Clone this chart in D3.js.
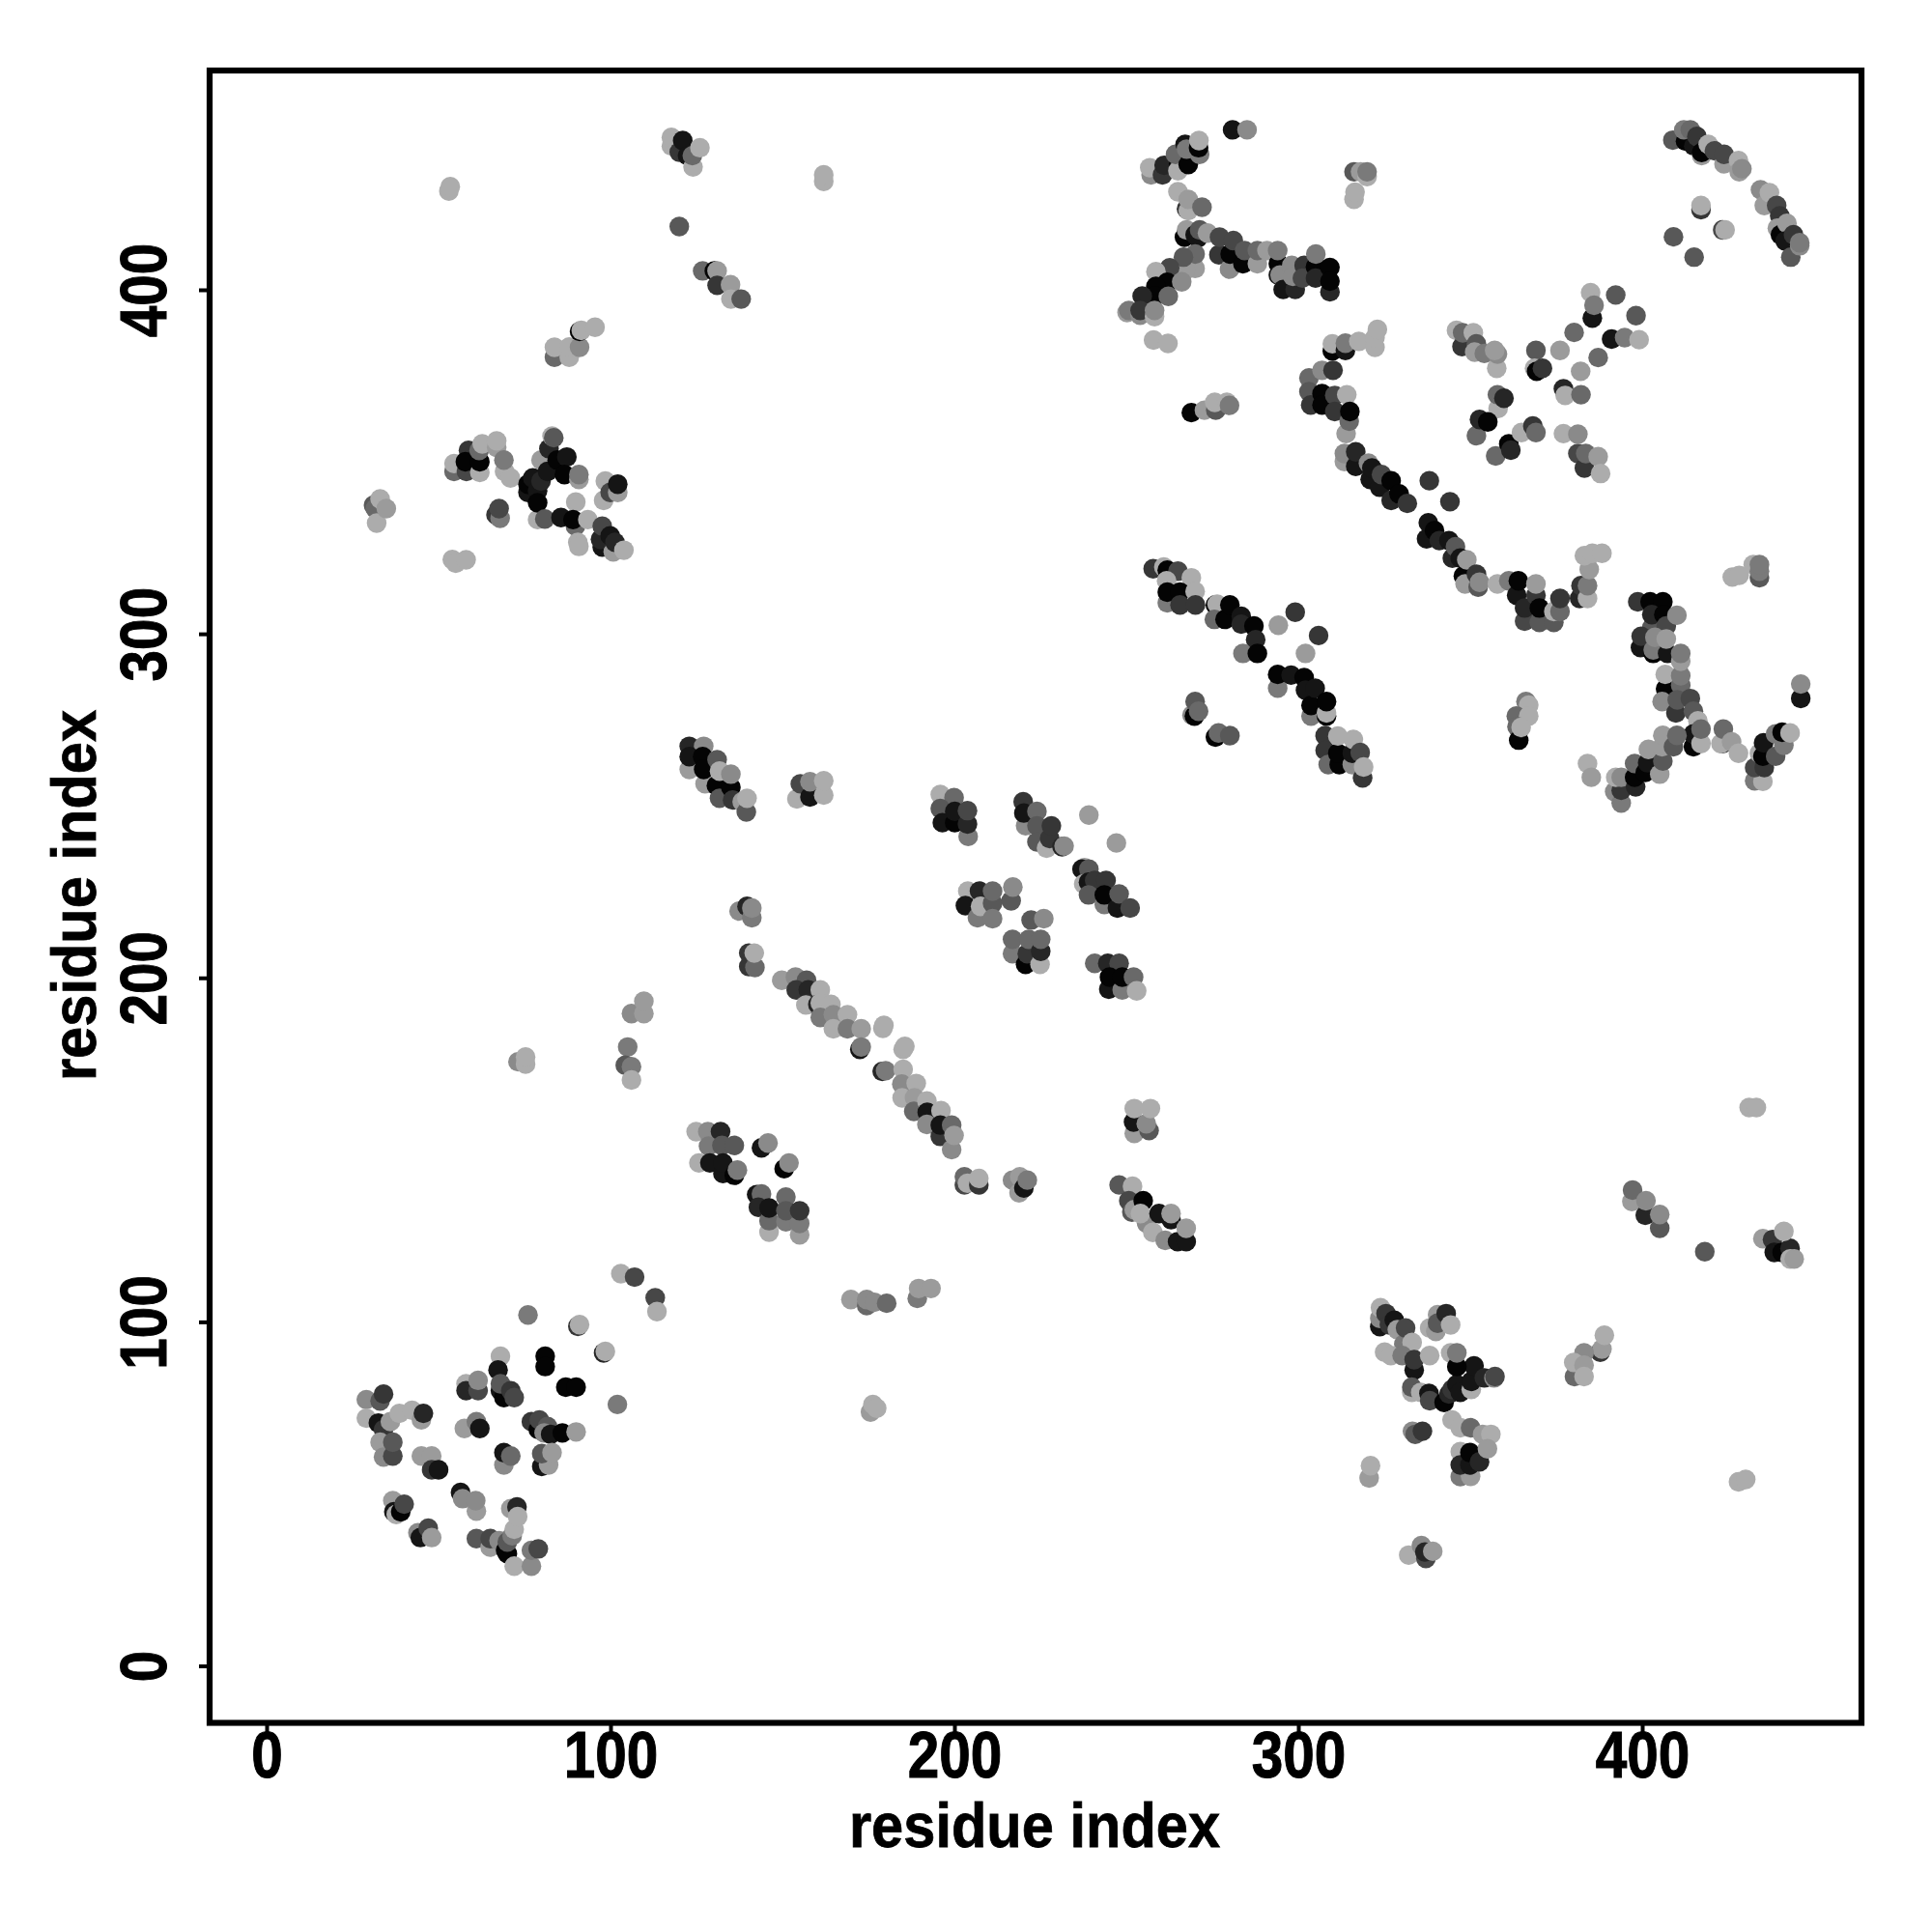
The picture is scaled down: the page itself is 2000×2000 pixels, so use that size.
<!DOCTYPE html>
<html><head><meta charset="utf-8">
<script src="https://cdn.jsdelivr.net/npm/d3@7"></script>
<style>html,body{margin:0;background:#fff}svg{display:block}</style></head>
<body><svg id="c" width="2000" height="2000"></svg>
<script>
// each contact: [residue i, residue j, shade score (0 darkest .. 10 lightest)]
const contactsBottomLeft=[[103,114,10],[107,113,4],[113,107,4],[113.5,103,10],[76,102,7],[90.5,98.7,3],[91,99.2,10],[98,91,2],[98.5,91.4,10],[68,90,10],[81,90,0],[81,87,0],[67.3,86,1],[87,81,0],[90,81,0],[102,76,7],
[29,77.4,8],[33,77,5],[34,79,3],[29,72,10],[58,82,10],[58,80,2],[61.5,80,4],[61.5,83,8],[68,80,1],[69,78,0],[68,82,5],[71,80,3],[72,78,4],
[32.5,70.6,1],[34,68.7,3],[33,65,9],[34,60.7,8],[36.7,61,4],[36,71,9],[38.6,73.4,10],[42.3,74.3,10],[45,71.5,9],[45.6,73.4,2],[36.7,65,5],
[57.5,69,9],[61,71,7],[62,69,1],[77,71,3],[79,68.7,0],[79.3,71.5,4],[81.7,69.6,5],[80.7,67.7,8],[82.6,67.3,1],[86,67.7,0],[90,68,9],
[69,58.4,8],[69,62,1],[71,61,6],[80,58,1],[82,58.4,9],[80,61.7,5],[83,62,9],[45,61,9],[48,61,9],[48,57,3],[50,57,1],
[56.4,50.4,1],[57,48.6,8],[61,45,9],[60.8,48,8],[36.7,48,9],[37,44.8,1],[37.7,44,10],[39,44.8,0],[40,47,4],[44,38.7,8],[44.7,37.3,1],[47,40,4],[48,37.3,9],
[61,37,5],[65,34.5,9],[65,37,4],[67.6,36.4,8],[69.5,33.6,0],[70,32.6,0],[70,36,5],[71.4,37.8,7],[72,39.7,10],[71,45.7,9],[72.8,46.2,2],[73,43.4,10],[72,29,10],[77,29,8],[77,33.6,7],[79,34,4]];

const contactsTopCentre=[[280.9,446.5,1],[285.1,446.5,8],[257.2,433.4,8],[256.8,435.5,10],[260.5,433.4,3],[261,436.2,2],[265.2,436.6,0],[265,434.6,10],[264.3,439.4,6],[268,436.4,0],[267.1,442.3,1],[267.5,440.9,7],[271.3,439.4,7],[271,441.3,0],[271.1,443.4,10],
[265,428.5,10],[267.5,423.5,3],[268,423,10],[268,426.3,9],[272,424,6],[266.9,415.3,0],[267.5,417.4,9],[270,416,1],[270.8,415.1,1],[271.3,417.4,5],[273.6,416.5,9],
[276.9,410.2,3],[277.1,415.3,4],[280,406,8],[280.2,410.4,0],[281.1,414.3,4],[283.9,407.6,0],[284.4,411.4,5],[288.1,407.6,9],[288.1,411.4,6],[290.9,411.4,9],[294.2,407.6,0],[294,411.4,7],[294.2,404.3,1],[294.7,404.3,8],[295.6,400.1,1],[299.1,400.1,2],[298.1,407.1,8],[298.4,403.9,8],[301.7,407.1,3],[301.2,403.4,4],[305,406.7,0],[305,403.4,2],[305.1,410.4,7],[309.2,399.4,2],[309.2,406.5,0],[309.2,402.5,0],
[270,406.2,9],[270,410.4,6],[267.1,405.7,9],[266.6,409.5,5],[262.6,406.4,4],[258.6,405.3,10],[261.9,402.2,0],[258.6,401,0],[266.1,402.3,8],[258.4,398.2,0],[262.2,398.1,6],[254.6,398.2,2],[250.2,393.4,9],[250.7,394,7],[254,392.6,8],[254,394,3],[258.2,392.2,10],[258.2,394,8],
[257.9,385.4,10],[262.1,384.4,10],[268.9,364.3,0],[272.7,365,9],[276,365,5],[275.7,367.3,10],[279.2,367.3,10],[280,366.4,7],
[316.2,434.3,5],[318.1,434.3,9],[320,432.9,10],[320,434.3,7],[316.2,426.3,10],[316.5,428.4,10]];

const contactsRightCurve=[[309.9,382.2,0],[309.9,384.3,10],[313.7,382.4,1],[313.7,384.5,7],[317.6,385,10],[322.3,383.3,10],[322.3,386.1,10],[323,388.5,10],
[303.1,374.4,6],[303.1,370.4,5],[303.6,366.5,3],[306.9,376.6,8],[310.1,376.6,3],[306.9,369.8,0],[306.9,366.5,0],[310.6,369.3,4],[310.6,364.6,3],[314.1,369.5,10],[313.9,358.2,9],[314.8,361.8,6],[315,364.6,0],
[313.4,350.1,9],[313.4,352.4,8],[316.7,348.7,1],[316.7,352.9,2],[320.4,349.6,8],[320.9,344.9,1],[321.4,348.2,1],[323.7,342.6,1],[324.2,346.3,4],[327,338.8,2],[327,344.5,0],[329.3,340.7,0],[331.7,337.9,3],[338.1,344.5,3],[344.1,338.4,3],
[337.3,327.6,1],[337.8,332.3,1],[339.6,330,0],[341,327.1,2],[343.8,327.1,1],[344.8,322,2],[345.7,325.3,5],[347.1,322,1],[348,316.8,0],[348.5,314.5,9],[349,321.5,9],[351.8,317.3,3],[352.3,313.6,5],[352.7,315,8],
[357.9,314.5,10],[361.2,315.4,7],[363.5,311.2,1],[364,315.4,0],[365.8,303.7,4],[365.8,307.5,2],[369.1,311.2,3],[369.1,314.5,9],[370.1,303.3,5],[370.1,307.5,0],[374.3,303.3,5],[374.3,306.5,10],[376.1,306.5,6],[376.1,310.3,3],
[381.8,310.3,2],[382.2,314,3],[384.1,310.3,10],[384.1,314,7],[384.6,318.7,9],[383.2,322.7,10],[385.5,323.4,10],[388.3,323.4,10]];

const contactsCross=[[346,388.2,10],[347.6,383.5,3],[347.8,387.5,6],[350.9,387.5,10],[351.8,384.3,5],[351.3,381.9,9],[354.1,381.5,7],[357.7,377.2,10],[357.9,381.3,8],[357.1,382.4,9],
[358.1,365.5,10],[357.9,369.5,6],[359.8,368.5,2],[351.8,357.6,6],[352.7,362.3,2],[355.1,361.6,0],[357.4,351.7,6],[361.2,355.2,0],[361.8,353.4,2],[364.9,358.5,10],[368.2,360.4,3],[369.1,358.5,6],
[369.1,382.4,5],[368.7,377.2,10],[369.3,376.3,0],[371,377.2,3],[376.1,382.4,9],[380.2,387.6,6],[385,399.2,10],[385.5,391.8,1],[386,395.5,7],[392.3,398.5,5],[398.2,392.5,5],[391.1,385.7,1],[394.9,386.1,7],[399.1,385.5,10],[387.2,380.3,6],[382.1,376.3,9],[377.1,371.2,2],[377.6,369.3,10],[382.2,369.5,6],
[377.1,358.2,10],[381.3,352.4,4],[381.3,358,8],[383.2,348.2,3],[383.6,352.4,6],[387.2,351.5,9],[387.9,346.6,10]];

const contactsTopRight=[[408.9,443.5,5],[412.6,443.2,0],[412.1,446.5,7],[414,446.5,6],[415,441.8,1],[415.9,444.6,3],[417.3,439,9],[417.3,439.9,0],[419.2,442.3,10],[421,440.4,4],[423.8,436.6,9],[423.8,439.4,4],[428,437.6,10],[428.2,434.3,9],[429,435.2,8],
[434.4,429.1,8],[435.5,424.5,9],[437,428.2,10],[439.1,424.5,4],[440,421.5,3],[439.3,417.9,9],[440.2,416,0],[442.1,419.3,9],[441.6,414.2,1],[443.2,409.5,5],[444,416,3],[445.8,412.8,8],[445.8,413.7,7],
[417.1,423.3,3],[417.1,424.5,10],[423.4,417.4,4],[424.1,417.4,10],[409.1,415.4,5],[415.1,409.5,5]];

const contactsRightHook=[[446.1,281.2,1],[446.1,285.4,8],[426.2,316.5,10],[428.2,317,10],[432.3,320.1,10],[434.1,316.3,5],[434.1,318.2,7],[434.1,320.1,7],
[398.7,309.3,3],[402.3,309.3,0],[406,309.3,0],[402.8,301.8,5],[402.8,305.6,2],[406.3,305.6,0],[407,302.3,4],[410.1,305.4,8],[399.5,296,1],[399.7,299.3,3],[403.2,294.3,0],[403.2,295.3,7],[403.7,299,8],[407.4,294.3,1],[407,298.5,9],
[406.8,284,0],[406.7,288.2,10],[411.2,285,6],[411.2,287.8,7],[411.2,292,9],[411.2,294.3,7],[405.8,280.3,8],[409.8,277,3],[410.2,280.8,5],[414,281.2,4],[414.9,277.5,5],[416.2,274.7,10],
[414.9,267.2,0],[414.9,270.9,1],[417.1,268.1,10],[417.1,272.3,6],[423.4,268.1,3],[422.9,268.1,10],[423.6,272.3,6],[426,268.6,9],[428,265.3,10],
[392,254.1,8],[393.9,250.8,7],[393.9,254.5,3],[392.3,258.3,10],[393.9,258.3,8],[398.1,255.5,2],[397.8,258.3,0],[397.8,262.3,6],[400.9,259.7,0],[401.6,262.5,1],[401.8,266.4,9],[405.1,259.2,9],[406,263,5],[405.8,267.2,9],[406,270.5,9],[409.1,267.2,5],[410.1,270.5,6],
[384.1,262.3,10],[385.2,258.3,9],
[432.7,257.3,7],[435.1,257.1,10],[432.7,261.1,4],[435.5,261.1,3],[434.1,265.3,10],[435.1,264.4,0],[435.3,268.3,1],[438.8,264.4,5],[438.8,270.9,7],[441.2,267.6,7],[440.7,271.4,0],[443,271.2,10],
[366.2,280.3,7],[367,279.3,10],[363.4,276.1,6],[367,276.1,10],[363.6,273,6],[364.1,269.1,0],[364.8,272.8,10]];

const contactsMidRight=[[257.8,318.9,3],[260.9,319.4,10],[261.9,318.5,0],[265,318.2,4],[261.7,315.4,10],[268.9,316.3,10],[261.9,309,7],[261.9,312.1,0],[265.6,312.1,0],[270,312.3,10],[265.6,308.4,3],[270.1,308.4,3],
[275.9,308.4,0],[276.4,308.6,10],[275.6,304.2,6],[278.7,304.2,0],[280.1,308.4,0],[283.4,305.1,1],[283.4,302.8,2],[287.1,302.3,0],[287.6,298.3,2],[283.9,294.3,7],[288.1,294.3,0],
[294.2,302.5,9],[299.1,306.3,3],[302.1,294.3,9],[305.9,299.5,3],[294,284.2,7],[294,288.2,0],[297.9,288,1],[301.7,287.3,0],[302.1,283.6,1],[303.7,276.1,7],[303.7,279.2,0],[304.9,284.2,1],[308.2,276.1,0],[308.2,277,10],[308.2,280.3,0],
[307.8,270.4,3],[307.8,266.1,3],[308.7,262,6],[311.9,262,0],[311.5,265.3,0],[311.5,270.3,10],[315.7,262,8],[315.7,265.3,1],[316,269.3,10],[318,265.5,4],[318.7,258.1,3],[319,261.3,10],
[269.1,276.4,8],[269.8,276.1,0],[270,280.3,5],[271,277.5,6],[275.9,270,0],[276.8,271.2,6],[280.1,270.4,5]];

const contactsUpperLeft=[[83.7,380.4,6],[83.7,383.3,10],[88,380.4,10],[88,383.4,10],[91,383.3,8],[91,387.9,0],[91.5,388.2,10],[95.5,389.1,10],
[31.1,337.4,5],[31.6,336.4,6],[32,332.2,10],[33,339.2,10],[34.8,336.4,9],[54,321.6,10],[55,320.5,10],[58,321.5,10],
[54.5,347.2,6],[54.5,349.5,10],[58.1,347.2,4],[58.7,353.3,3],[57.8,350,0],[62,346.9,10],[62,350,0],[61.8,353.3,6],[62.7,355.2,10],[66.9,354.2,9],[66.9,356.1,10],[69.2,347.2,10],[70.9,345.3,10],[69,350.5,7],
[66.7,334.6,3],[67.9,333.6,7],[67.6,336.4,4],
[76,341.1,1],[76,343.5,0],[77.4,345.3,1],[78.8,341.6,1],[79.8,344.4,2],[79.8,350.5,9],[81.7,347.2,1],[82.1,353.8,2],[83,357.5,10],[83.5,357,5],[84.5,350.5,0],[87.3,351.4,1],[86.6,346.3,0],[90.8,344.9,9],[90.8,346.3,7],
[78.8,333.2,10],[78.8,338.1,0],[80.9,333.4,5],[85.6,333.8,1],[89.9,338.3,10],[89.8,331.3,6],[89.1,333.2,0],[93.4,333.2,10],[90.5,326.6,10],[90.8,325.4,10],
[97.6,325.2,1],[97.1,327.5,2],[97.6,331.3,4],[99.9,328.5,1],[100.8,323.8,9],[101.3,326.6,2],[103.9,324.3,10],[98,338.8,10],[98.5,344.4,10],[99.9,341.1,4],[102.1,341.1,9],[102.1,343.5,1],
[53,428.7,10],[53.4,430,10]];

const contactsTopMid=[[117.7,441.8,10],[117.7,444.3,10],[120,440,3],[121,443.4,1],[122.4,439,1],[124,435.7,10],[123.8,439,6],[126,441.3,10],[162,431.5,10],[162,433.4,10],[120,418.4,5],[126.8,405.5,6],[130.2,405.5,0],[131,405.5,9],[131,401.3,3],[134.9,401.5,9],[135,397.3,10],[138,397.3,5]];

const contactsCentre=[[122.9,267.3,2],[127.1,267.3,8],[122.9,260.6,9],[122.9,264.3,1],[127.5,256.4,9],[126.8,264.3,0],[127.1,260.6,0],[131,263.4,5],[130.8,255.9,0],[131.7,252.2,5],[131.7,260.1,10],[135,255.4,0],[135,259.2,8],[135.5,251.7,3],[138.3,251.2,9],[139.5,248.2,5],[139.7,252.2,10],
[154.2,252,10],[155.2,256.4,4],[158,252.6,1],[158,257,8],[162,253.1,10],[162,257.3,10],
[195.9,253.3,10],[199.9,252.4,6],[195.9,249.2,5],[196.5,245.1,1],[200.1,245.1,0],[200.1,248.4,1],[204,241.1,7],[203.8,244.7,2],[203.8,248.6,4],
[220,251.2,3],[220.7,244.2,8],[220.2,247.9,1],[224,248.4,6],[224,244.2,5],[224,239.5,5],[226.8,237.7,10],[227.7,240.5,3],[228.2,244.2,3],[231.3,238.1,2],[231.9,238.3,8],[239.1,247.3,9],[247.1,239.2,9],
[237.8,232,9],[237.1,231.6,1],[239.1,231.6,5],[237.6,227.3,10],[239,227.8,1],[240.8,228.3,3],[244.1,228.3,3],[239,224.1,5],[243.6,221.3,7],[243.6,224.1,0],[247.4,220.3,1],[247.9,224.4,5],[251.1,220.3,4],
[203.9,225.2,10],[203.2,221,1],[206.7,217.5,7],[207.3,225.2,2],[207.6,220.8,10],[211.1,221.7,5],[211.1,225.2,6],[211.1,217.2,7],[216.5,222.4,5],[217,226.4,8],
[222.3,216.8,5],[226,217.2,8],[216.9,207,7],[216.9,211.2,6],[220.7,203.9,0],[221.2,207,3],[221.6,211.2,6],[224.9,203.9,10],[225.1,207.7,2],[225.1,211.2,6],
[240.8,204.2,6],[244.6,204.2,2],[247.9,204.2,4],[244.9,196.7,1],[245.1,200.2,0],[248.8,196.5,7],[248.8,200.2,0],[252.1,200.2,6],[253,196.2,10],
[137.4,219.4,8],[139.7,220.8,2],[141.1,217.5,7],[141.1,220.3,8],[140.2,203.3,3],[140.2,207.2,3],[142,203,6],[141.8,207.2,10]];

const contactsDiagonal=[[149.8,199.3,9],[153.8,200.2,8],[157,199.3,5],[154,196.5,3],[157.5,196.5,2],[161,196.5,10],[157.2,192.3,3],[156.8,192.1,10],[160.3,192.3,2],[161,192.7,10],[164.1,192.3,10],[161,188.5,7],[164.8,189.3,8],[168.9,189.3,10],[164.8,185.2,10],[168.9,185.2,7],[172.9,185.2,9],
[179.2,185.3,10],[179.5,186.2,10],[172.5,179.2,1],[172.9,179.9,7],[185.1,179.2,10],[185.6,180.1,10],[179,172.8,2],[180,173,7],[185.1,173.4,10],[184.7,169.1,8],[188.9,169.3,10],[184.8,165.1,10],[188.4,165.1,9],[188.2,161.2,6],[192,164.2,10],[192.1,160.9,1],[196.1,161.4,10],[192,157.4,8],[195.9,153.9,3],[195.9,157.2,1],[199.2,157.2,6],[199.2,150.1,8],[199.9,154.2,9],
[202.9,139.8,4],[202.9,142.2,6],[203.8,140.3,10],[207.1,139.8,3],[207.1,141.7,10],[216.9,141.2,8],[218.8,137.5,9],[219,142.2,9],[220.2,138.9,1],[221.2,141.2,7],
[124.9,155.3,10],[128.3,155.3,8],[132,155.3,2],[128.5,151.1,7],[132.4,151.3,5],[136,151.3,5],[125.7,146.2,10],[128.9,146.2,1],[132.7,143.1,1],[132.7,146.2,1],[136,142.6,0],[136.9,144.1,7],
[143.9,150.6,1],[145.8,152,8],[150.5,144.5,0],[151.9,146.2,8],[142.5,137,1],[143.9,137.2,6],[143,133.3,2],[146.1,126.1,10],[146.1,129.4,6],[146.1,133.1,1],[151,136.3,6],[151,129.1,7],[151,132.3,5],[155,125.3,9],[155,128.6,7],[155,132.3,3],
[252.3,154.8,9],[252.1,158.1,1],[256.6,155.6,5],[255.8,157.6,8],[252.3,162,10],[257,162,10],
[247.9,139.8,5],[251.8,139.4,10],[250.7,135.2,4],[251.6,131.9,5],[252.3,132.6,9],[254.9,135.2,0],[255.9,128.7,8],[254.1,131.5,10],[259.5,131.5,1],[257.7,126,10],[263,129.7,1],[263,131.5,9],[261.3,123.7,8],[264.9,123.3,1],[267.4,123.3,1],[267.4,127.2,9]];

const contactsLowerRight=[[431.1,162.3,10],[433.2,162.3,10],[397,135,9],[397.2,138.3,6],[400.9,131,2],[401.1,135.2,8],[405.1,127.2,5],[405.1,131.2,8],[418.2,120.4,5],
[435.1,124.2,9],[437.9,123.9,3],[438.4,120.2,1],[440.7,120.2,0],[443,121.4,2],[441.2,126.3,10],[443,118.3,10],[444.2,118.3,9],
[387.8,91.2,3],[388.3,92.1,9],[389,96.1,10],[383.1,91,8],[380.3,84.1,6],[380.1,88.2,10],[383.1,87.4,9],[383.1,84.1,10],[428,53.5,10],[430.1,54.2,10],
[323.7,98.6,1],[323.7,101,8],[323.9,104.1,10],[325.5,102.4,3],[326.5,99.1,3],[327.9,100.5,1],[328.8,97.7,9],[330.7,93.5,7],[331.2,98.2,4],[333.1,94,10],
[325.1,91.2,10],[326.9,90.2,10],[330.2,90.2,7],[333.7,86,1],[333.7,89,3],[333,79.5,10],[333,81,5],[335.6,79.5,10],[338,79.2,1],[338.2,77.1,4],[342.4,76.6,0],[343.8,79,2],[344.7,80.4,3],[346.1,81.8,1],[347.1,79.5,1],[350.3,80.4,10],[350.3,82.7,1],[351.1,87.2,1],[354.1,83.7,2],[356.9,83.7,8],[357.2,84.1,4],
[338.2,98.2,10],[340,97.2,9],[340.5,102.1,9],[340.5,99.6,5],[343,102.4,2],[344.3,99.1,10],[344.3,91,10],[346.1,87,0],[346.1,91,7],[338.2,90.2,10],
[344.7,71.5,10],[347.1,69.2,10],[350.1,69.2,6],[353.6,67.3,9],[356,67.3,10],[347.1,62.3,10],[347.1,55,7],[350.1,55.1,9],[347.1,58.4,2],[349.9,58.4,1],[349.9,62,0],[352.7,59.3,2],[355,63.1,9],
[333.2,68.2,8],[334,67.3,5],[336.1,68.2,3],[320.6,54.6,9],[321,58.2,10],
[332.1,32.2,10],[335.8,35,8],[337.1,31.2,4],[336.8,33.1,2],[339.1,33.3,9]];

const contactsIsolated=[[169.9,106.5,9],[174.5,104.7,6],[174.5,106.5,8],[176.7,105.7,8],[180.3,105.4,6],[189.2,106.8,7],[189.6,109.7,9],[193.2,109.7,9],[175.6,73.8,9],[176.3,76,10],[177.4,74.9,10],[73.1,175.6,8],[75.3,174.9,10],[75.3,177,10],[106.1,189.6,8],[109.7,189.6,9],[109.7,193.2,9],[105,179.9,7],[104.3,174.6,5],[106.1,174.2,7],[106.1,170.3,10]];

const xTickValues=[0,100,200,300,400];
const yTickValues=[0,100,200,300,400];
const xAxisTitle="residue index";
const yAxisTitle="residue index";

const contacts=[].concat(contactsBottomLeft,contactsTopCentre,contactsRightCurve,contactsCross,contactsTopRight,contactsRightHook,contactsMidRight,contactsUpperLeft,contactsTopMid,contactsCentre,contactsDiagonal,contactsLowerRight,contactsIsolated);

const FONT='"Liberation Sans",Arial,sans-serif';
const box={l:217,r:1927,t:73,b:1783.5};
const x=d3.scaleLinear().domain([0,400]).range([276,1700]);
const y=d3.scaleLinear().domain([0,400]).range([1724.5,300]);
const shade=d3.scaleLinear().domain([0,10]).range([4,172]);
const svg=d3.select('#c');

svg.append('g').selectAll('circle').data(contacts).join('circle')
  .attr('cx',d=>x(d[0])).attr('cy',d=>y(d[1])).attr('r',10.2)
  .attr('fill',d=>{const g=Math.round(shade(d[2]));return d3.rgb(g,g,g).formatHex();});

svg.append('rect').attr('x',box.l).attr('y',box.t).attr('width',box.r-box.l).attr('height',box.b-box.t)
  .attr('fill','none').attr('stroke','#000').attr('stroke-width',6.2);

const gx=svg.append('g').attr('transform',`translate(0,${box.b})`)
  .call(d3.axisBottom(x).tickValues(xTickValues).tickSize(11).tickPadding(0).tickFormat(d3.format('d')));
const gy=svg.append('g').attr('transform',`translate(${box.l},0)`)
  .call(d3.axisLeft(y).tickValues(yTickValues).tickSize(11).tickPadding(0).tickFormat(d3.format('d')));
[gx,gy].forEach(g=>{g.select('.domain').remove();
  g.selectAll('.tick line').attr('stroke','#000').attr('stroke-width',4);
  g.selectAll('.tick text').attr('fill','#000').attr('stroke','#000').attr('stroke-width',0.9)
   .style('font-family',FONT).style('font-weight','bold').style('font-size','58.5px');});
gx.selectAll('.tick text').attr('dy',null).attr('y',null).attr('text-anchor','middle')
  .attr('transform','translate(0,56) scale(1,1.18)');
gy.selectAll('.tick text').attr('dy',null).attr('x',null).attr('y',null)
  .attr('text-anchor','middle').attr('transform','translate(-45,0) rotate(-90) scale(1,1.18)');

svg.append('text').attr('transform','translate(1071,1911.5) scale(1,1.1)').attr('text-anchor','middle').attr('fill','#000')
  .attr('stroke','#000').attr('stroke-width',0.7)
  .style('font-family',FONT).style('font-weight','bold').style('font-size','59.6px').text(xAxisTitle);
svg.append('text').attr('transform','translate(98.5,927) rotate(-90) scale(1,1.1)').attr('text-anchor','middle').attr('fill','#000')
  .attr('stroke','#000').attr('stroke-width',0.7)
  .style('font-family',FONT).style('font-weight','bold').style('font-size','59.6px').text(yAxisTitle);
</script></body></html>
